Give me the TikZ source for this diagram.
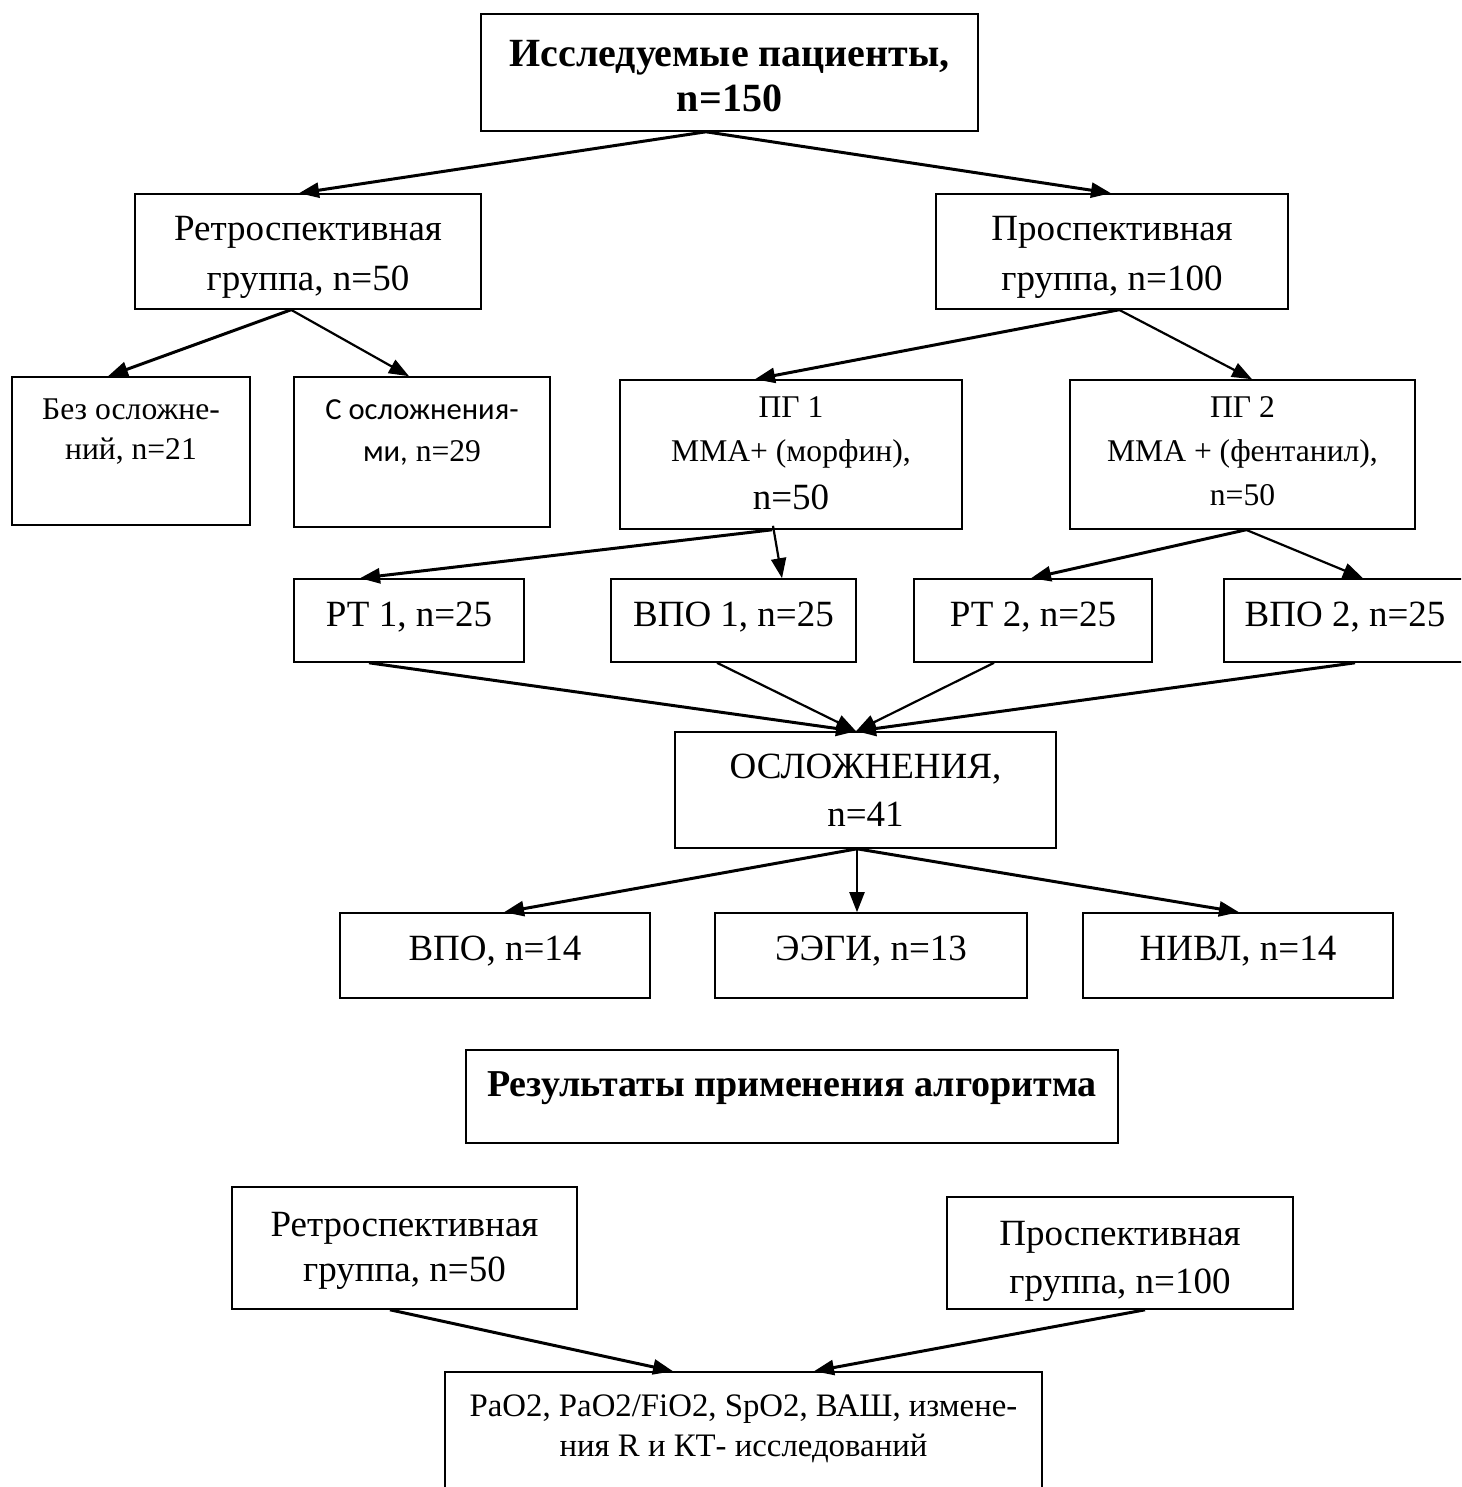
\documentclass[tikz,border=0pt]{standalone}
\usepackage{fontspec}
\setmainfont{Liberation Serif}
\newfontfamily\calibrisub{Carlito}
\usetikzlibrary{arrows.meta}
\newcommand\tbx[2][0pt]{\raisebox{#1}[\height][\depth]{\begin{tabular}{@{}c@{}}#2\end{tabular}}}
\begin{document}
\begin{tikzpicture}[x=1pt,y=-1pt,
  box/.style={draw, line width=1.6pt, inner sep=0pt},
  bigt/.style={font=\fontsize{37}{50}\selectfont},
  smallt/.style={font=\fontsize{31.6}{40}\selectfont},
  arr/.style={-{Triangle[length=20pt,width=15pt]}, line width=3pt},
  arrthin/.style={-{Triangle[length=20pt,width=15pt]}, line width=2.2pt}]
\useasboundingbox (0,0) rectangle (1461,1487);
\clip (0,0) rectangle (1461,1487);
% row 1
\node[box, minimum width=497pt, minimum height=117pt, font=\fontsize{40}{45}\selectfont\bfseries] (top) at (729.5,72.5) {\tbx[-8pt]{Исследуемые пациенты,\\n=150}};
% row 2
\node[box, bigt, minimum width=346pt, minimum height=115pt] (retro) at (308,251.5) {\tbx[-4.5pt]{Ретроспективная\\группа, n=50}};
\node[box, bigt, minimum width=352pt, minimum height=115pt] (prosp) at (1112,251.5) {\tbx[-4.5pt]{Проспективная\\группа, n=100}};
% row 3
\node[box, smallt, minimum width=238pt, minimum height=148pt] (bez) at (131,451) {\tbx{Без осложне-\\ний, n=21\\~}};
\node[box, font=\fontsize{31.6}{42}\selectfont, minimum width=256pt, minimum height=150pt] (sosl) at (422,452) {\tbx[-1pt]{{\fontsize{30.6}{42}\selectfont\calibrisub С осложнения-}\\{\fontsize{30.6}{42}\selectfont\calibrisub ми,} n=29\\~}};
\node[box, font=\fontsize{31.6}{44}\selectfont, minimum width=342pt, minimum height=149pt] (pg1) at (791,454.5) {\tbx{ПГ 1\\ММА+ (морфин),\\[4pt]{\fontsize{37}{44}\selectfont n=50}}};
\node[box, font=\fontsize{31.6}{44}\selectfont, minimum width=345pt, minimum height=149pt] (pg2) at (1242.5,454.5) {\tbx[2pt]{ПГ 2\\ММА + (фентанил),\\n=50}};
% row 4
\node[box, bigt, minimum width=230pt, minimum height=83pt] (rt1) at (409,620.5) {\tbx[4.5pt]{РТ 1, n=25}};
\node[box, bigt, minimum width=245pt, minimum height=83pt] (vpo1) at (733.5,620.5) {\tbx[4.5pt]{ВПО 1, n=25}};
\node[box, bigt, minimum width=238pt, minimum height=83pt] (rt2) at (1033,620.5) {\tbx[4.5pt]{РТ 2, n=25}};
\node[box, bigt, minimum width=242pt, minimum height=83pt] (vpo2) at (1345,620.5) {\tbx[4.5pt]{ВПО 2, n=25}};
% row 5
\node[box, font=\fontsize{37}{48}\selectfont, minimum width=381pt, minimum height=116pt] (osl) at (865.5,790) {\tbx[-2.5pt]{ОСЛОЖНЕНИЯ,\\n=41}};
% row 6
\node[box, bigt, minimum width=310pt, minimum height=85pt] (vpo) at (495,955.5) {\tbx[5.5pt]{ВПО, n=14}};
\node[box, bigt, minimum width=312pt, minimum height=85pt] (eegi) at (871,955.5) {\tbx[5.5pt]{ЭЭГИ, n=13}};
\node[box, bigt, minimum width=310pt, minimum height=85pt] (nivl) at (1238,955.5) {\tbx[5.5pt]{НИВЛ, n=14}};
% results
\node[box, font=\fontsize{38}{45}\selectfont\bfseries, minimum width=652pt, minimum height=93pt] (res) at (792,1096.5) {\tbx[9pt]{Результаты применения алгоритма}};
\node[box, font=\fontsize{37}{45}\selectfont, minimum width=345pt, minimum height=122pt] (retro2) at (404.5,1248) {\tbx[-1.5pt]{Ретроспективная\\группа, n=50}};
\node[box, font=\fontsize{37}{48}\selectfont, minimum width=346pt, minimum height=112pt] (prosp2) at (1120,1253) {\tbx[-6.5pt]{Проспективная\\группа, n=100}};
\node[box, font=\fontsize{32.8}{40}\selectfont, minimum width=597pt, minimum height=150pt] (fin) at (743.5,1447) {\tbx[-1.5pt]{PaO2, PaO2/FiO2, SpO2, ВАШ, измене-\\ния R и КТ- исследований\\~}};
% arrows
\draw[arr] ([xshift=-23.5pt]top.south) -- ([xshift=-9pt]retro.north);
\draw[arr] ([xshift=-23.5pt]top.south) -- ([xshift=-1pt]prosp.north);
\draw[arr] ([xshift=-17pt]retro.south) -- ([xshift=-23pt]bez.north);
\draw[arrthin] ([xshift=-17pt]retro.south) -- ([xshift=-13pt]sosl.north);
\draw[arr] ([xshift=7pt]prosp.south) -- ([xshift=-36pt]pg1.north);
\draw[arrthin] ([xshift=7pt]prosp.south) -- ([xshift=9.5pt]pg2.north);
\draw[arr] ([xshift=-19pt]pg1.south) -- ([xshift=-49pt]rt1.north);
\draw[arrthin] ([xshift=-18pt,yshift=4pt]pg1.south) -- ([xshift=48.5pt]vpo1.north);
\draw[arr] ([xshift=3.5pt]pg2.south) -- ([xshift=-2pt]rt2.north);
\draw[arrthin] ([xshift=3.5pt]pg2.south) -- ([xshift=18pt]vpo2.north);
\draw[arr] ([xshift=-40pt]rt1.south) -- ([xshift=-9.5pt]osl.north);
\draw[arrthin] ([xshift=-16.5pt]vpo1.south) -- ([xshift=-9.5pt]osl.north);
\draw[arrthin] ([xshift=-39pt]rt2.south) -- ([xshift=-9.5pt]osl.north);
\draw[arr] ([xshift=10pt]vpo2.south) -- ([xshift=-9.5pt]osl.north);
\draw[arr] ([xshift=-8.5pt]osl.south) -- ([xshift=9pt]vpo.north);
\draw[arrthin] ([xshift=-8.5pt]osl.south) -- ([xshift=-14pt]eegi.north);
\draw[arr] ([xshift=-8.5pt]osl.south) -- ([xshift=1pt]nivl.north);
\draw[arr] ([xshift=-14.5pt]retro2.south) -- ([xshift=-70.5pt]fin.north);
\draw[arr] ([xshift=25pt]prosp2.south) -- ([xshift=70.5pt]fin.north);
\end{tikzpicture}
\end{document}
